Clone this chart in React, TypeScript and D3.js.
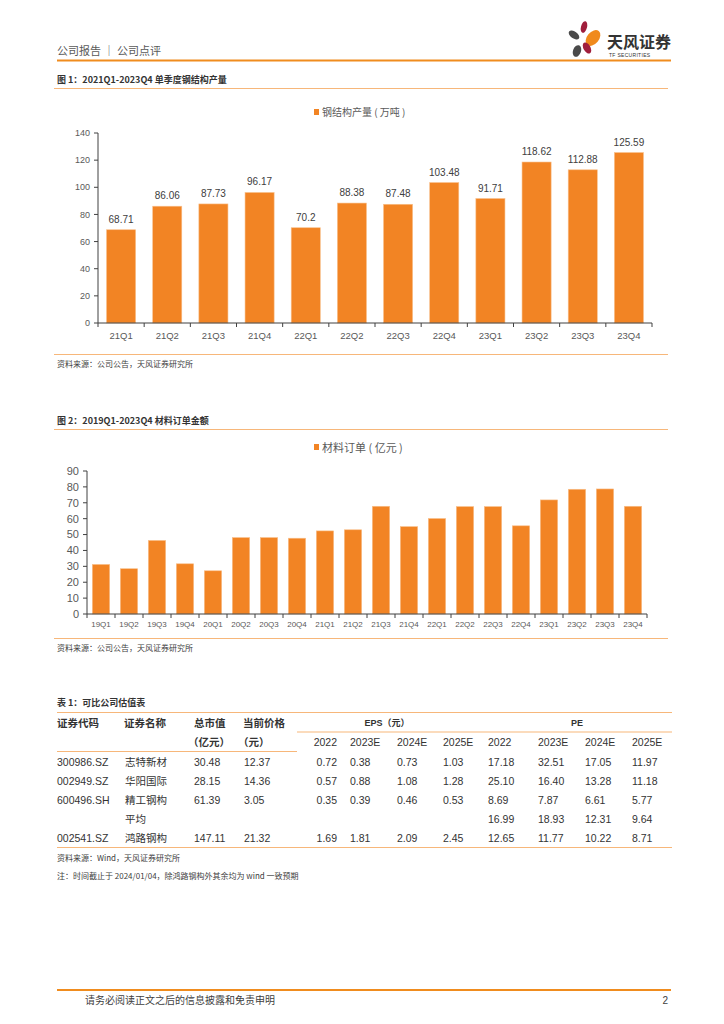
import React from "react";
import * as d3 from "d3";

// 图1 单季度钢结构产量（万吨）
const quarters1 = ["21Q1", "21Q2", "21Q3", "21Q4", "22Q1", "22Q2", "22Q3", "22Q4", "23Q1", "23Q2", "23Q3", "23Q4"];
const output1 = [68.71, 86.06, 87.73, 96.17, 70.2, 88.38, 87.48, 103.48, 91.71, 118.62, 112.88, 125.59];
const ticks1 = [0, 20, 40, 60, 80, 100, 120, 140];

// 图2 材料订单金额（亿元）
const quarters2 = [
  "19Q1", "19Q2", "19Q3", "19Q4", "20Q1", "20Q2", "20Q3", "20Q4", "21Q1", "21Q2",
  "21Q3", "21Q4", "22Q1", "22Q2", "22Q3", "22Q4", "23Q1", "23Q2", "23Q3", "23Q4",
];
const orders2 = [31.2, 28.5, 46.3, 31.6, 27.2, 48.1, 48.1, 47.7, 52.3, 53.0, 67.8, 55.0, 60.1, 67.6, 67.6, 55.5, 71.8, 78.5, 78.7, 67.8];
const ticks2 = [0, 10, 20, 30, 40, 50, 60, 70, 80, 90];

// 表1 可比公司估值表
const codes = ["300986.SZ", "002949.SZ", "600496.SH", "", "002541.SZ"];
const names = ["志特新材", "华阳国际", "精工钢构", "平均", "鸿路钢构"];
const marketCap = ["30.48", "28.15", "61.39", "", "147.11"];
const prices = ["12.37", "14.36", "3.05", "", "21.32"];
const eps = [
  ["0.72", "0.38", "0.73", "1.03"],
  ["0.57", "0.88", "1.08", "1.28"],
  ["0.35", "0.39", "0.46", "0.53"],
  ["", "", "", ""],
  ["1.69", "1.81", "2.09", "2.45"],
];
const pe = [
  ["17.18", "32.51", "17.05", "11.97"],
  ["25.10", "16.40", "13.28", "11.18"],
  ["8.69", "7.87", "6.61", "5.77"],
  ["16.99", "18.93", "12.31", "9.64"],
  ["12.65", "11.77", "10.22", "8.71"],
];
const yearCols = ["2022", "2023E", "2024E", "2025E"];

const ORANGE = "#F28424";
const LINE = "#F7B77A";
const FONT = "'Liberation Sans', 'Noto Sans CJK SC', sans-serif";
const CJK = "'Noto Sans CJK SC', sans-serif";

function BarChart(props: {
  cats: string[];
  vals: number[];
  ticks: number[];
  x0: number;
  x1: number;
  y0: number;
  y1: number;
  max: number;
  pad: number;
  showValues: boolean;
  tickFont: number;
  catFont: number;
  catY: number;
}) {
  const { cats, vals, ticks, x0, x1, y0, y1, max, pad, showValues, tickFont, catFont, catY } = props;
  const x = d3.scaleBand<string>().domain(cats).range([x0, x1]).paddingInner(pad).paddingOuter(pad / 2);
  const y = d3.scaleLinear().domain([0, max]).range([y0, y1]);
  const step = x.step();
  const bounds = d3.range(cats.length + 1).map((i) => x0 + i * step);
  return (
    <g>
      {cats.map((c, i) => (
        <rect key={c} x={x(c)} y={y(vals[i])} width={x.bandwidth()} height={y0 - y(vals[i])} fill={ORANGE} stroke="#F9C08C" strokeWidth={0.6} />
      ))}
      {showValues &&
        cats.map((c, i) => (
          <text key={"v" + c} x={(x(c) ?? 0) + x.bandwidth() / 2} y={y(vals[i]) - 7} textAnchor="middle" fontSize={10} fill="#404040" fontFamily={FONT}>
            {String(vals[i])}
          </text>
        ))}
      <line x1={x0} x2={x0} y1={y1} y2={y0} stroke="#404040" strokeWidth={1} />
      <line x1={x0} x2={x1} y1={y0} y2={y0} stroke="#404040" strokeWidth={1} />
      {ticks.map((t) => (
        <g key={"t" + t}>
          <line x1={x0 - 4} x2={x0} y1={y(t)} y2={y(t)} stroke="#404040" />
          <text x={x0 - 8} y={y(t) + tickFont * 0.35} textAnchor="end" fontSize={tickFont} fill="#595959" fontFamily={FONT}>
            {t}
          </text>
        </g>
      ))}
      {bounds.map((b, i) => (
        <line key={"b" + i} x1={b} x2={b} y1={y0} y2={y0 + 4} stroke="#404040" />
      ))}
      {cats.map((c) => (
        <text key={"c" + c} x={(x(c) ?? 0) + x.bandwidth() / 2} y={catY} textAnchor="middle" fontSize={catFont} fill="#595959" fontFamily={FONT}>
          {c}
        </text>
      ))}
    </g>
  );
}

function Logo() {
  return (
    <g>
      <ellipse cx={584} cy={27} rx={3} ry={6} fill="#A01E3C" transform="rotate(15 584 27)" />
      <ellipse cx={574} cy={35} rx={3.5} ry={6} fill="#4A4A4A" transform="rotate(-55 574 35)" />
      <ellipse cx={593} cy={38} rx={6} ry={9} fill="#F08A1C" transform="rotate(40 593 38)" />
      <ellipse cx={587} cy={48} rx={3.5} ry={6} fill="#A01E3C" transform="rotate(-30 587 48)" />
      <ellipse cx={577} cy={51} rx={4} ry={6} fill="#4A4A4A" transform="rotate(20 577 51)" />
      <text x={607} y={48} fontSize={16} fontWeight="bold" fill="#333" fontFamily={CJK}>
        天风证券
      </text>
      <text x={609} y={57} fontSize={5} fill="#333" fontFamily={FONT} letterSpacing={0.3}>
        TF SECURITIES
      </text>
    </g>
  );
}

export default function App() {
  const rowY = [762, 781, 800, 819, 838];
  const epsX = [337, 350, 397, 443];
  const peX = [488, 538, 585, 632];
  const tf = 10.5;
  return (
    <svg width={724} height={1024} style={{ position: "absolute", left: 0, top: 0 }} fontFamily={FONT}>
      <rect width={724} height={1024} fill="#fff" />
      {/* header */}
      <text x={57} y={55} fontSize={11} fill="#595959" fontFamily={CJK}>
        公司报告 ｜ 公司点评
      </text>
      <line x1={57} x2={671} y1={60.5} y2={60.5} stroke="#F08C1E" strokeWidth={2} />
      <Logo />

      {/* figure 1 */}
      <text x={57} y={83} fontSize={9} fontWeight="bold" fill="#333" fontFamily={CJK}>
        图 1：2021Q1-2023Q4 单季度钢结构产量
      </text>
      <line x1={54} x2={668} y1={88.5} y2={88.5} stroke={LINE} strokeWidth={1} />
      <rect x={314} y={109} width={5} height={6} fill={ORANGE} />
      <text x={322} y={116} fontSize={10} fill="#595959" fontFamily={CJK}>
        钢结构产量 ( 万吨 )
      </text>
      <BarChart cats={quarters1} vals={output1} ticks={ticks1} x0={98} x1={652} y0={323} y1={133} max={140} pad={0.37} showValues tickFont={9} catFont={9.5} catY={339} />
      <line x1={54} x2={668} y1={354.5} y2={354.5} stroke={LINE} strokeWidth={1} />
      <text x={57} y={367} fontSize={8} fill="#404040" fontFamily={CJK}>
        资料来源：公司公告，天风证券研究所
      </text>

      {/* figure 2 */}
      <text x={57} y={424} fontSize={9} fontWeight="bold" fill="#333" fontFamily={CJK}>
        图 2：2019Q1-2023Q4 材料订单金额
      </text>
      <line x1={54} x2={668} y1={429.5} y2={429.5} stroke={LINE} strokeWidth={1} />
      <rect x={314} y={444} width={5} height={6} fill={ORANGE} />
      <text x={322} y={452} fontSize={11} fill="#595959" fontFamily={CJK}>
        材料订单 ( 亿元 )
      </text>
      <BarChart cats={quarters2} vals={orders2} ticks={ticks2} x0={87} x1={647} y0={614} y1={471} max={90} pad={0.38} showValues={false} tickFont={11} catFont={8} catY={627} />
      <line x1={54} x2={668} y1={638.5} y2={638.5} stroke={LINE} strokeWidth={1} />
      <text x={57} y={651} fontSize={8} fill="#404040" fontFamily={CJK}>
        资料来源：公司公告，天风证券研究所
      </text>

      {/* table 1 */}
      <text x={57} y={706} fontSize={9} fontWeight="bold" fill="#333" fontFamily={CJK}>
        表 1：可比公司估值表
      </text>
      <line x1={57} x2={672} y1={712.5} y2={712.5} stroke={LINE} strokeWidth={1.2} />
      <g fontFamily={CJK} fontSize={tf} fontWeight="bold" fill="#333">
        <text x={57} y={727}>证券代码</text>
        <text x={124} y={727}>证券名称</text>
        <text x={194} y={727}>总市值</text>
        <text x={243} y={727}>当前价格</text>
        <text x={188} y={746}>（亿元）</text>
        <text x={238} y={746}>（元）</text>
      </g>
      <text x={387} y={726} fontSize={9} fill="#333" fontWeight="bold" textAnchor="middle" fontFamily={FONT}>
        EPS（元）
      </text>
      <text x={577} y={726} fontSize={9} fill="#333" fontWeight="bold" textAnchor="middle" fontFamily={FONT}>
        PE
      </text>
      <line x1={297} x2={672} y1={732} y2={732} stroke={LINE} strokeWidth={1.2} />
      <line x1={57} x2={297} y1={751.5} y2={751.5} stroke={LINE} strokeWidth={1.2} />
      {yearCols.map((c, j) => (
        <g key={"h" + c} fontSize={tf} fill="#333" fontFamily={FONT}>
          <text x={epsX[j]} y={746} textAnchor={j === 0 ? "end" : "start"}>{c}</text>
          <text x={peX[j]} y={746}>{c}</text>
        </g>
      ))}
      {rowY.map((ry, i) => (
        <g key={"r" + i} fontSize={tf} fill="#333" fontFamily={FONT}>
          <text x={57} y={ry + 4}>{codes[i]}</text>
          <text x={125} y={ry + 4} fontFamily={CJK}>{names[i]}</text>
          <text x={194} y={ry + 4}>{marketCap[i]}</text>
          <text x={244} y={ry + 4}>{prices[i]}</text>
          {eps[i].map((v, j) => (
            <text key={"e" + j} x={epsX[j]} y={ry + 4} textAnchor={j === 0 ? "end" : "start"}>{v}</text>
          ))}
          {pe[i].map((v, j) => (
            <text key={"p" + j} x={peX[j]} y={ry + 4}>{v}</text>
          ))}
        </g>
      ))}
      <line x1={57} x2={672} y1={847.5} y2={847.5} stroke={LINE} strokeWidth={1.2} />
      <text x={57} y={861} fontSize={8} fill="#404040" fontFamily={CJK}>
        资料来源：Wind，天风证券研究所
      </text>
      <text x={57} y={879} fontSize={8} fill="#404040" fontFamily={CJK}>
        注：时间截止于 2024/01/04，除鸿路钢构外其余均为 wind 一致预期
      </text>

      {/* footer */}
      <line x1={57} x2={671} y1={990} y2={990} stroke="#F08C1E" strokeWidth={2} />
      <text x={85} y={1004} fontSize={10} fill="#404040" fontFamily={CJK}>
        请务必阅读正文之后的信息披露和免责申明
      </text>
      <text x={668} y={1004} fontSize={10} fill="#404040" textAnchor="end" fontFamily={FONT}>
        2
      </text>
    </svg>
  );
}
